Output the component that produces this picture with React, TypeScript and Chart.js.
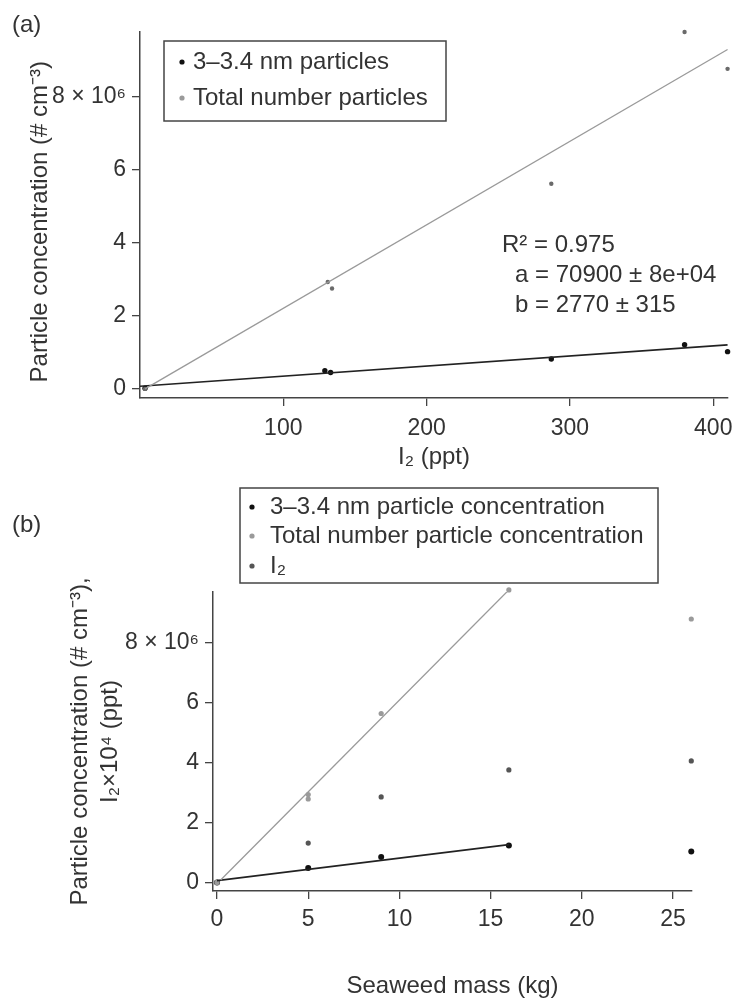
import React, { useEffect, useRef } from "react";
import { Chart, registerables } from "chart.js";

Chart.register(...registerables);

const FONT = '"Liberation Sans", Arial, Helvetica, sans-serif';
const TEXT = "#333333";
const AXIS = "#444444";

// ---------- Panel (a) ----------
const aI2Small = [3.5, 129, 133, 287, 380, 410];
const aSmall = [0.02e6, 0.5e6, 0.45e6, 0.82e6, 1.21e6, 1.02e6];
const aI2Total = [3.5, 131, 134, 287, 380, 410];
const aTotal = [0, 2.93e6, 2.75e6, 5.62e6, 9.78e6, 8.77e6];
const aFitA = 70900;
const aFitB = 2770;
const aSmallFitX = [0, 410];
const aTotalFitX = [3.5, 410];
const aTotalFitY = [0, 9.3e6];
const aXTicks = [100, 200, 300, 400];
const aYTicks = [0, 2e6, 4e6, 6e6, 8e6];
const aLegend = ["3–3.4 nm particles", "Total number particles"];
const aStats = ["R² = 0.975", "a = 70900 ± 8e+04", "b = 2770 ± 315"];

// ---------- Panel (b) ----------
const bMassSmall = [0, 5, 9, 16, 26];
const bSmall = [0.02e6, 0.5e6, 0.87e6, 1.25e6, 1.05e6];
const bMassTotal = [0, 5, 5, 9, 16, 26];
const bTotal = [0.02e6, 2.8e6, 2.95e6, 5.65e6, 9.77e6, 8.8e6];
const bMassI2 = [0, 5, 9, 16, 26];
const bI2 = [0.02e6, 1.33e6, 2.87e6, 3.77e6, 4.07e6];
const bSmallFitX = [0, 16];
const bSmallFitY = [0.08e6, 1.28e6];
const bTotalFitX = [0.2, 16];
const bTotalFitY = [0.1e6, 9.77e6];
const bXTicks = [0, 5, 10, 15, 20, 25];
const bYTicks = [0, 2e6, 4e6, 6e6, 8e6];
const bLegend = [
  "3–3.4 nm particle concentration",
  "Total number particle concentration",
  "I₂",
];

const yFmt = (v: number) => (v === 8e6 ? "8 × 10⁶" : String(v / 1e6));

const zip = (xs: number[], ys: number[]) => xs.map((x, i) => ({ x, y: ys[i] }));

function axis(
  min: number,
  max: number,
  ticks: number[],
  fmt: (v: number) => string,
  size: number,
  isX: boolean,
  title: string | string[],
  titlePad: any,
  tickPad: number
) {
  return {
    type: "linear",
    min,
    max,
    afterBuildTicks: (s: any) => {
      s.ticks = ticks.map((v) => ({ value: v }));
    },
    afterFit: (s: any) => {
      if (isX) s.height = size;
      else s.width = size;
      s.paddingLeft = 0;
      s.paddingRight = 0;
      s.paddingTop = 0;
      s.paddingBottom = 0;
    },
    grid: {
      drawOnChartArea: false,
      drawTicks: true,
      tickLength: 8,
      color: AXIS,
      lineWidth: 1.3,
    },
    border: { display: true, color: AXIS, width: 1.5 },
    ticks: {
      color: TEXT,
      font: { family: FONT, size: 23 },
      padding: tickPad,
      maxRotation: 0,
      autoSkip: false,
      callback: (v: any) => fmt(Number(v)),
    },
    title: {
      display: true,
      text: title,
      color: TEXT,
      font: { family: FONT, size: 24, lineHeight: 1.25 },
      padding: titlePad,
    },
  };
}

function decor(opts: {
  tag: string;
  tagY: number;
  box: [number, number, number, number];
  markerX: number;
  textX: number;
  rows: number[];
  labels: string[];
  colors: string[];
  stats?: { lines: string[]; xs: number[]; ys: number[] };
}) {
  return {
    id: "decor",
    afterDraw(chart: any) {
      const ctx = chart.ctx as CanvasRenderingContext2D;
      ctx.save();
      ctx.font = `24px ${FONT}`;
      ctx.fillStyle = TEXT;
      ctx.textBaseline = "middle";
      ctx.textAlign = "left";
      ctx.fillText(opts.tag, 12, opts.tagY);
      // legend box
      const [x0, y0, x1, y1] = opts.box;
      ctx.fillStyle = "#ffffff";
      ctx.fillRect(x0, y0, x1 - x0, y1 - y0);
      ctx.strokeStyle = AXIS;
      ctx.lineWidth = 1.5;
      ctx.strokeRect(x0, y0, x1 - x0, y1 - y0);
      opts.labels.forEach((lab, i) => {
        ctx.fillStyle = opts.colors[i];
        ctx.beginPath();
        ctx.arc(opts.markerX, opts.rows[i], 2.6, 0, Math.PI * 2);
        ctx.fill();
        ctx.fillStyle = TEXT;
        ctx.fillText(lab, opts.textX, opts.rows[i]);
      });
      if (opts.stats) {
        opts.stats.lines.forEach((s, i) => {
          ctx.fillText(s, opts.stats!.xs[i], opts.stats!.ys[i]);
        });
      }
      ctx.restore();
    },
  };
}

function PanelA() {
  const ref = useRef<HTMLCanvasElement>(null);
  useEffect(() => {
    const smallFitY = aSmallFitX.map((x) => aFitA + aFitB * x);
    const chart = new Chart(ref.current!, {
      type: "scatter",
      data: {
        datasets: [
          {
            label: "",
            data: zip(aTotalFitX, aTotalFitY),
            showLine: true,
            borderColor: "#9a9a9a",
            borderWidth: 1.3,
            pointRadius: 0,
          },
          {
            label: "",
            data: zip(aSmallFitX, smallFitY),
            showLine: true,
            borderColor: "#222222",
            borderWidth: 1.6,
            pointRadius: 0,
          },
          {
            label: aLegend[1],
            data: zip(aI2Total, aTotal),
            backgroundColor: "#6a6a6a",
            borderWidth: 0,
            pointRadius: 2.2,
            clip: false,
          },
          {
            label: aLegend[0],
            data: zip(aI2Small, aSmall),
            backgroundColor: "#111111",
            borderWidth: 0,
            pointRadius: 2.7,
            clip: false,
          },
        ],
      } as any,
      options: {
        responsive: false,
        animation: false,
        events: [],
        layout: { padding: { top: 32, right: 11, left: 0, bottom: 0 } },
        plugins: { legend: { display: false }, tooltip: { enabled: false } },
        scales: {
          x: axis(
            0,
            410.3,
            aXTicks,
            (v) => String(v),
            74,
            true,
            "I₂ (ppt)",
            { top: 0, bottom: 0 },
            9
          ),
          y: axis(
            -0.25e6,
            9.78e6,
            aYTicks,
            yFmt,
            140,
            false,
            "Particle concentration (# cm⁻³)\u00a0\u00a0",
            { top: 25, bottom: 0 },
            6
          ),
        } as any,
      },
      plugins: [
        decor({
          tag: "(a)",
          tagY: 25,
          box: [164, 41, 446, 121],
          markerX: 182,
          textX: 193,
          rows: [62, 98],
          labels: aLegend,
          colors: ["#111111", "#9a9a9a"],
          stats: { lines: aStats, xs: [502, 515, 515], ys: [245, 275, 305] },
        }),
      ],
    });
    return () => chart.destroy();
  }, []);
  return (
    <canvas
      ref={ref}
      width={739}
      height={472}
      style={{ position: "absolute", left: 0, top: 0, width: 739, height: 472 }}
    />
  );
}

function PanelB() {
  const ref = useRef<HTMLCanvasElement>(null);
  useEffect(() => {
    const chart = new Chart(ref.current!, {
      type: "scatter",
      data: {
        datasets: [
          {
            label: "",
            data: zip(bTotalFitX, bTotalFitY),
            showLine: true,
            borderColor: "#9a9a9a",
            borderWidth: 1.3,
            pointRadius: 0,
          },
          {
            label: "",
            data: zip(bSmallFitX, bSmallFitY),
            showLine: true,
            borderColor: "#222222",
            borderWidth: 1.6,
            pointRadius: 0,
          },
          {
            label: bLegend[1],
            data: zip(bMassTotal, bTotal),
            backgroundColor: "#9a9a9a",
            borderWidth: 0,
            pointRadius: 2.6,
            clip: false,
          },
          {
            label: bLegend[2],
            data: zip(bMassI2, bI2),
            backgroundColor: "#555555",
            borderWidth: 0,
            pointRadius: 2.6,
            clip: false,
          },
          {
            label: bLegend[0],
            data: zip(bMassSmall, bSmall),
            backgroundColor: "#111111",
            borderWidth: 0,
            pointRadius: 3,
            clip: false,
          },
        ],
      } as any,
      options: {
        responsive: false,
        animation: false,
        events: [],
        layout: { padding: { top: 120, right: 47, left: 0, bottom: 0 } },
        plugins: { legend: { display: false }, tooltip: { enabled: false } },
        scales: {
          x: axis(
            -0.22,
            26.04,
            bXTicks,
            (v) => String(v),
            111,
            true,
            "Seaweed mass (kg)",
            { top: 0, bottom: 1 },
            7
          ),
          y: axis(
            -0.267e6,
            9.7e6,
            bYTicks,
            yFmt,
            213,
            false,
            ["Particle concentration (# cm⁻³),", "I₂×10⁴ (ppt)"],
            { top: 65, bottom: 0 },
            6
          ),
        } as any,
      },
      plugins: [
        decor({
          tag: "(b)",
          tagY: 53,
          box: [240, 16, 658, 111],
          markerX: 252,
          textX: 270,
          rows: [35, 64, 94],
          labels: bLegend,
          colors: ["#111111", "#9a9a9a", "#555555"],
        }),
      ],
    });
    return () => chart.destroy();
  }, []);
  return (
    <canvas
      ref={ref}
      width={739}
      height={530}
      style={{ position: "absolute", left: 0, top: 472, width: 739, height: 530 }}
    />
  );
}

export default function App() {
  return (
    <div
      style={{
        position: "absolute",
        left: 0,
        top: 0,
        width: 739,
        height: 1002,
        background: "#ffffff",
        overflow: "hidden",
      }}
    >
      <PanelA />
      <PanelB />
    </div>
  );
}
